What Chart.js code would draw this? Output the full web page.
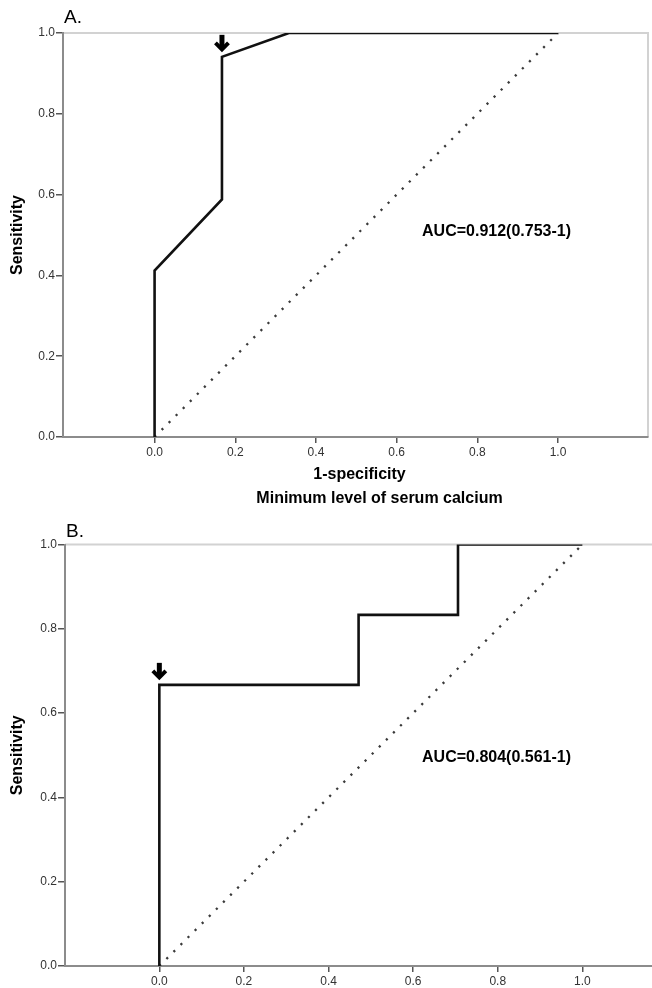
<!DOCTYPE html>
<html><head><meta charset="utf-8">
<script src="https://cdn.jsdelivr.net/npm/chart.js@4/dist/chart.umd.min.js"></script>
<style>
html,body{margin:0;padding:0;background:#fff;overflow:hidden;width:652px;height:988px;position:relative;}
#wa{position:absolute;left:0;top:0;}
#wb{position:absolute;left:0;top:510px;}
canvas{display:block;}
</style></head><body>
<div id="wa"><canvas id="ca" width="652" height="510" style="width:652px;height:510px"></canvas></div>
<div id="wb"><canvas id="cb" width="700" height="490" style="width:700px;height:490px"></canvas></div>
<script>
// ---- data ----
const xTicks = [0, 0.2, 0.4, 0.6, 0.8, 1.0];
const yTicks = [0, 0.2, 0.4, 0.6, 0.8, 1.0];
const rocAx = [0, 0, 0.167, 0.167, 0.333, 1.0];
const rocAy = [0, 0.412, 0.588, 0.941, 1.0, 1.0];
const rocBx = [0, 0, 0.471, 0.471, 0.706, 0.706, 1.0];
const rocBy = [0, 0.667, 0.667, 0.833, 0.833, 1.0, 1.0];
const refX = [0, 1];
const refY = [0, 1];
const cutA = [0.167, 0.941];
const cutB = [0, 0.667];
const panelLabels = ['A.', 'B.'];
const aucLabels = ['AUC=0.912(0.753-1)', 'AUC=0.804(0.561-1)'];
const xTitleLines = ['1-specificity', 'Minimum level of serum calcium'];
const yTitle = 'Sensitivity';

const FF = '"Liberation Sans", Arial, Helvetica, sans-serif';

const annot = {
  id: 'annot',
  beforeDraw(chart, args, o) {
    const {ctx, chartArea: a} = chart;
    ctx.save();
    ctx.strokeStyle = '#d2d2d2';
    ctx.lineWidth = 2;
    ctx.beginPath();
    ctx.moveTo(a.left, a.top);
    ctx.lineTo(a.right, a.top);
    ctx.lineTo(a.right, a.bottom);
    ctx.stroke();
    ctx.restore();
  },
  afterDatasetsDraw(chart, args, o) {
    const {ctx, chartArea: a, scales: {x, y}} = chart;
    ctx.save();
    ctx.fillStyle = '#000';
    ctx.font = '19px ' + FF;
    ctx.textAlign = 'left';
    ctx.textBaseline = 'alphabetic';
    ctx.fillText(o.panel, a.left + 1, a.top - o.panelDy);

    ctx.font = 'bold 16px ' + FF;
    ctx.textBaseline = 'middle';
    ctx.fillText(o.auc, x.getPixelForValue(o.aucX), y.getPixelForValue(o.aucY));

    const px = x.getPixelForValue(o.cut[0]);
    const py = y.getPixelForValue(o.cut[1]);
    ctx.strokeStyle = '#000';
    ctx.lineWidth = 5;
    ctx.lineCap = 'butt';
    ctx.beginPath();
    ctx.moveTo(px, py - 22);
    ctx.lineTo(px, py - 9);
    ctx.stroke();
    ctx.lineWidth = 4;
    ctx.lineJoin = 'miter';
    ctx.beginPath();
    ctx.moveTo(px - 6.5, py - 14);
    ctx.lineTo(px, py - 7.5);
    ctx.lineTo(px + 6.5, py - 14);
    ctx.stroke();

    if (o.xTitle) {
      const cx = (a.left + a.right) / 2;
      ctx.textAlign = 'center';
      ctx.textBaseline = 'middle';
      ctx.font = 'bold 16px ' + FF;
      ctx.fillText(o.xTitle[0], cx + 4, a.bottom + 38);
      ctx.fillText(o.xTitle[1], cx + 24, a.bottom + 62);
    }
    ctx.restore();
  }
};

function makeChart(id, cfg) {
  return new Chart(document.getElementById(id), {
    type: 'scatter',
    data: {
      datasets: [
        {
          data: cfg.rx.map((v, i) => ({x: v, y: cfg.ry[i]})),
          showLine: true, borderColor: '#111', borderWidth: 2.6,
          pointRadius: 0, fill: false, tension: 0, order: 1
        },
        {
          data: refX.map((v, i) => ({x: v, y: refY[i]})),
          showLine: true, borderColor: '#3a3a3a', borderWidth: 2.3,
          borderDash: [2.2, 7.8], borderCapStyle: 'butt',
          pointRadius: 0, fill: false, order: 2
        }
      ]
    },
    options: {
      responsive: false, animation: false, devicePixelRatio: 1, events: [],
      layout: {padding: cfg.pad},
      plugins: {
        legend: {display: false},
        tooltip: {enabled: false},
        annot: cfg.annot
      },
      scales: {
        x: {
          type: 'linear', min: cfg.xmin, max: cfg.xmax,
          afterBuildTicks: s => { s.ticks = xTicks.map(v => ({value: v})); },
          afterFit: s => { s.height = cfg.xh; },
          ticks: {
            autoSkip: false, maxRotation: 0, padding: 2,
            color: '#333', font: {family: FF, size: 12},
            callback: v => Number(v).toFixed(1)
          },
          grid: {drawOnChartArea: false, drawTicks: true, tickLength: 6, color: '#555', lineWidth: 1.5},
          border: {display: true, color: '#8c8c8c', width: 2}
        },
        y: {
          type: 'linear', min: 0, max: 1,
          afterBuildTicks: s => { s.ticks = yTicks.map(v => ({value: v})); },
          afterFit: s => { s.width = cfg.yw; },
          ticks: {
            autoSkip: false, padding: 1,
            color: '#333', font: {family: FF, size: 12},
            callback: v => Number(v).toFixed(1)
          },
          title: {
            display: true, text: yTitle, color: '#000',
            font: {family: FF, size: 16, weight: 'bold'},
            padding: {top: 8, bottom: 0}
          },
          grid: {drawOnChartArea: false, drawTicks: true, tickLength: 7, color: '#555', lineWidth: 1.5},
          border: {display: true, color: '#8c8c8c', width: 2}
        }
      }
    },
    plugins: [annot]
  });
}

makeChart('ca', {
  rx: rocAx, ry: rocAy,
  pad: {left: 0, top: 33, right: 4, bottom: 0},
  xmin: -0.227, xmax: 1.223, xh: 73, yw: 63,
  annot: {panel: panelLabels[0], panelDy: 10, auc: aucLabels[0], aucX: 0.663, aucY: 0.509, cut: cutA, xTitle: xTitleLines}
});

makeChart('cb', {
  rx: rocBx, ry: rocBy,
  pad: {left: 0, top: 34.5, right: 23.3, bottom: 0},
  xmin: -0.223, xmax: 1.223, xh: 34, yw: 65,
  annot: {panel: panelLabels[1], panelDy: 7.5, auc: aucLabels[1], aucX: 0.621, aucY: 0.495, cut: cutB, xTitle: null}
});
</script>
</body></html>
